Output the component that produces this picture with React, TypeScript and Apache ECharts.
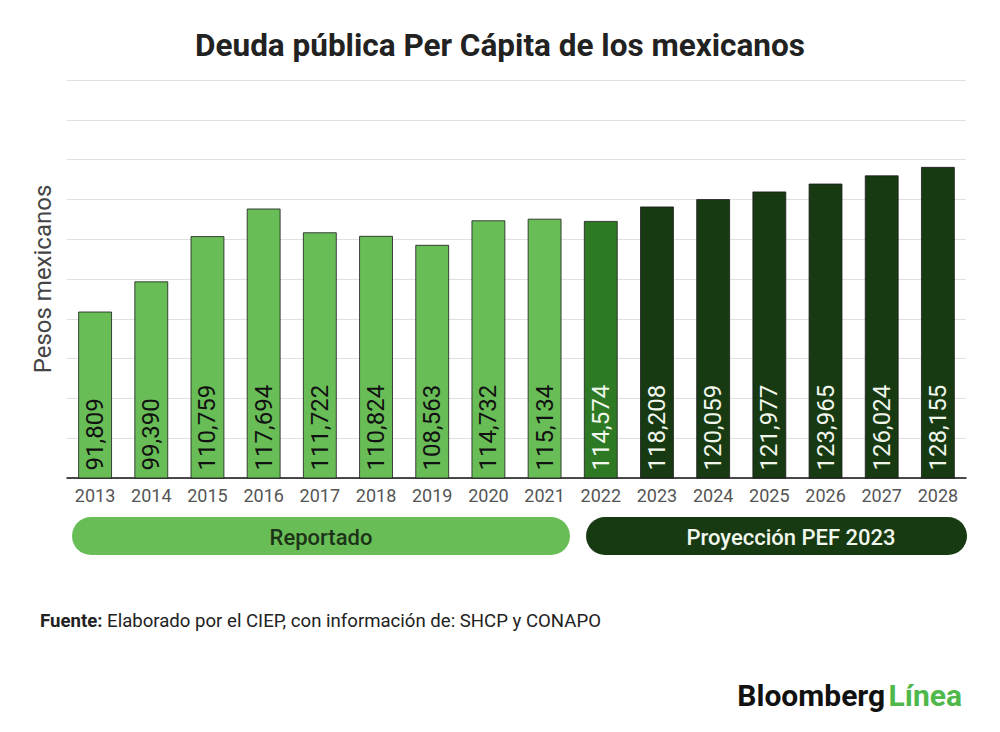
import { useEffect, useRef } from "react";
import * as echarts from "echarts";

const years = ["2013", "2014", "2015", "2016", "2017", "2018", "2019", "2020", "2021", "2022", "2023", "2024", "2025", "2026", "2027", "2028"];
const deuda = [91809, 99390, 110759, 117694, 111722, 110824, 108563, 114732, 115134, 114574, 118208, 120059, 121977, 123965, 126024, 128155];
// 0 = reportado, 1 = 2022 (estimado), 2 = proyección
const grupo = [0, 0, 0, 0, 0, 0, 0, 0, 0, 1, 2, 2, 2, 2, 2, 2];
const colores = ["#68bd57", "#2e7a24", "#173a12"];
const coloresTexto = ["#111111", "#f2f7ee", "#f2f7ee"];

const App = () => {
  const chartRef = useRef<HTMLDivElement>(null);

  useEffect(() => {
    const myChart = echarts.init(chartRef.current, null, { renderer: "svg" });
    const fmt = (v: number) => v.toLocaleString("en-US");
    myChart.setOption({
      animation: false,
      textStyle: { fontFamily: "Roboto" },
      title: {
        text: "Deuda pública Per Cápita de los mexicanos",
        left: 495,
        textAlign: "center",
        top: 24,
        textStyle: { fontSize: 31.5, fontWeight: "bold", color: "#222", fontFamily: "Roboto" },
      },
      grid: { left: 67, right: 34, top: 80, bottom: 254 },
      xAxis: {
        type: "category",
        data: years,
        axisLine: { lineStyle: { color: "#111", width: 1.5 } },
        axisTick: { show: false },
        axisLabel: { color: "#555", fontSize: 18, margin: 8 },
      },
      yAxis: {
        type: "value",
        min: 50000,
        max: 150000,
        interval: 10000,
        name: "Pesos mexicanos",
        nameLocation: "middle",
        nameGap: 12,
        nameTextStyle: { fontSize: 24, color: "#444" },
        axisLabel: { show: false },
        axisLine: { show: false },
        axisTick: { show: false },
        splitLine: { lineStyle: { color: "#e0e0e0" } },
      },
      series: [
        {
          type: "bar",
          barWidth: "60%",
          data: deuda.map((v, i) => ({
            value: v,
            itemStyle: { color: colores[grupo[i]], borderColor: "#1a1a1a", borderWidth: 0.8 },
            label: { color: coloresTexto[grupo[i]] },
          })),
          label: {
            show: true,
            position: "insideBottom",
            rotate: 90,
            align: "left",
            verticalAlign: "middle",
            distance: 8,
            fontSize: 24,
            formatter: (p: any) => fmt(p.value),
          },
        },
      ],
      graphic: [
        {
          type: "rect",
          shape: { x: 72, y: 517, width: 498, height: 38, r: 19 },
          style: { fill: "#68bd57" },
        },
        {
          type: "text",
          x: 321,
          y: 537,
          style: { text: "Reportado", fill: "#1d3318", fontSize: 22, fontWeight: 500, fontFamily: "Roboto", align: "center", verticalAlign: "middle" },
        },
        {
          type: "rect",
          shape: { x: 586, y: 517, width: 381, height: 38, r: 19 },
          style: { fill: "#173a12" },
        },
        {
          type: "text",
          x: 791,
          y: 537,
          style: { text: "Proyección PEF 2023", fill: "#f2f7ee", fontSize: 22, fontWeight: 500, fontFamily: "Roboto", align: "center", verticalAlign: "middle" },
        },
        {
          type: "text",
          x: 40,
          y: 621,
          style: {
            text: "{b|Fuente:} Elaborado por el CIEP, con información de: SHCP y CONAPO",
            fill: "#222",
            fontSize: 18.6,
            fontFamily: "Roboto",
            verticalAlign: "middle",
            rich: { b: { fontWeight: "bold", fontSize: 18.6, fontFamily: "Roboto", fill: "#222" } },
          },
        },
        {
          type: "text",
          x: 962,
          y: 695,
          style: {
            text: "{a|Bloomberg} {g|Línea}",
            align: "right",
            verticalAlign: "middle",
            rich: {
              a: { fontSize: 30, fontWeight: "bold", fontFamily: "Roboto", fill: "#111" },
              g: { fontSize: 30, fontWeight: "bold", fontFamily: "Roboto", fill: "#4fb84a" },
            },
          },
        },
      ],
    });
    return () => {
      myChart.dispose();
    };
  }, []);

  return (
    <div
      ref={chartRef}
      style={{ position: "absolute", left: 0, top: 0, width: "1000px", height: "732px", background: "#fff" }}
    ></div>
  );
};

export default App;
